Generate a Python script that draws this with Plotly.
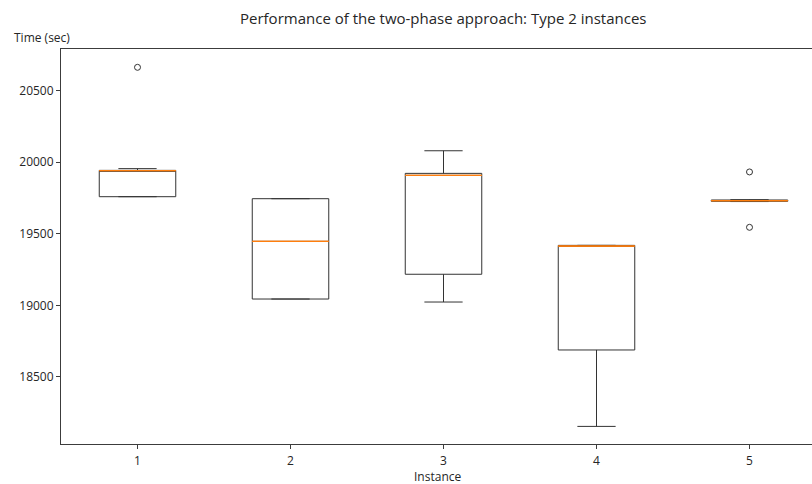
import plotly.graph_objects as go

# Data
instances = [1, 2, 3, 4, 5]
lower_whisker = [19759, 19044, 19023, 18154, 19725]
q1_vals = [19759, 19044, 19217, 18688, 19727]
median_vals = [19941, 19447, 19908, 19414, 19731]
q3_vals = [19943, 19745, 19922, 19419, 19736]
upper_whisker = [19955, 19745, 20080, 19419, 19738]
outlier_x = [1, 5, 5]
outlier_y = [20663, 19932, 19545]
tick_vals_y = [18500, 19000, 19500, 20000, 20500]
tick_text_y = ["18500", "19000", "19500", "20000", "20500"]
tick_text_x = ["1", "2", "3", "4", "5"]

W, H = 812, 484
L, T, B, R = 61, 49, 40, 0
pw = W - L - R
ph = H - T - B

def px_x(px):
    return (px - L) / pw

def px_y(py):
    return (H - B - py) / ph

font_family = "Open Sans"
axis_col = "#3c3c3c"
text_col = "#262626"

fig = go.Figure()

fig.add_trace(go.Box(
    x=instances,
    q1=q1_vals, median=median_vals, q3=q3_vals,
    lowerfence=lower_whisker, upperfence=upper_whisker,
    width=0.5, whiskerwidth=0.5,
    line=dict(color="#333333", width=1),
    fillcolor="rgba(0,0,0,0)",
    boxpoints=False, showlegend=False, hoverinfo="skip",
))

# orange median lines (degenerate boxes at the median)
fig.add_trace(go.Box(
    x=instances,
    q1=median_vals, median=median_vals, q3=median_vals,
    lowerfence=median_vals, upperfence=median_vals,
    width=0.5, whiskerwidth=0,
    line=dict(color="#ff7f0e", width=1),
    fillcolor="rgba(0,0,0,0)",
    boxpoints=False, showlegend=False, hoverinfo="skip",
))

fig.add_trace(go.Scatter(
    x=outlier_x, y=outlier_y, mode="markers",
    marker=dict(symbol="circle-open", size=6, color="#333333", line=dict(width=1)),
    showlegend=False, hoverinfo="skip",
))

fig.update_layout(
    width=W, height=H,
    margin=dict(l=L, r=R, t=T, b=B, pad=0),
    plot_bgcolor="white", paper_bgcolor="white",
    boxmode="overlay",
    font=dict(family=font_family, size=12, color=text_col),
    xaxis=dict(
        range=[0.5, 0.5 + pw / 153.0],
        tickmode="array", tickvals=instances, ticktext=tick_text_x,
        showgrid=False, zeroline=False,
        showline=True, mirror=True, linecolor=axis_col, linewidth=1,
        ticks="outside", ticklen=4, tickcolor=axis_col,
        ticklabelstandoff=2,
        tickfont=dict(size=12, color=text_col),
    ),
    yaxis=dict(
        range=[18031, 20791],
        tickmode="array", tickvals=tick_vals_y, ticktext=tick_text_y,
        showgrid=False, zeroline=False,
        showline=True, linecolor=axis_col, linewidth=1,
        ticks="outside", ticklen=4, tickcolor=axis_col,
        tickfont=dict(size=12, color=text_col),
    ),
    annotations=[
        dict(text="Performance of the two-phase approach: Type 2 instances",
             x=px_x(443), y=px_y(18), xref="paper", yref="paper",
             xanchor="center", yanchor="middle", showarrow=False,
             font=dict(size=15, color=text_col)),
        dict(text="Time (sec)", x=px_x(12), y=px_y(37), xref="paper", yref="paper",
             xanchor="left", yanchor="middle", showarrow=False,
             font=dict(size=12, color=text_col)),
        dict(text="Instance", x=px_x(437), y=px_y(476), xref="paper", yref="paper",
             xanchor="center", yanchor="middle", showarrow=False,
             font=dict(size=12, color=text_col)),
    ],
)

fig.write_html("out.html")
